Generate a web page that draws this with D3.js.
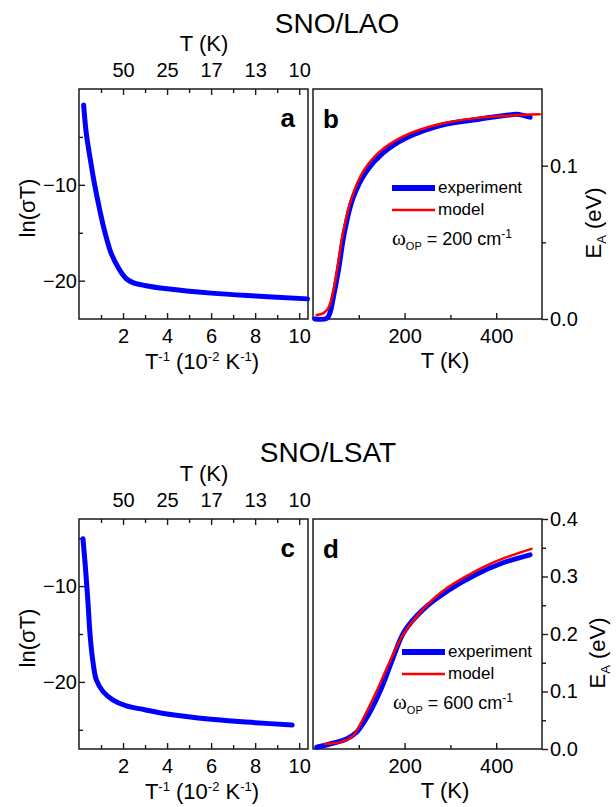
<!DOCTYPE html>
<html>
<head>
<meta charset="utf-8">
<script src="https://cdn.jsdelivr.net/npm/d3@7"></script>
<style>
  body { margin: 0; background: #fff; }
  svg { display: block; font-family: Arial, "Liberation Sans", sans-serif; }
  .axis path, .axis line { stroke: #1a1a1a; stroke-width: 1.4; }
  .axis text { font-size: 20px; fill: #000; font-family: Arial, "Liberation Sans", sans-serif; }
</style>
</head>
<body>
<script>
// ---- data ----
// panel a: SNO/LAO, ln(sigma T) vs 1/T (10^-2 K^-1)
var aInvT = [0.21, 0.33, 0.56, 0.71, 0.94, 1.16, 1.47, 1.85, 2.15, 2.45, 2.98, 4.0, 6.0, 8.0, 10.38];
var aLnSigT = [-1.67, -4.6, -8.0, -10.0, -12.6, -14.8, -17.2, -18.9, -19.8, -20.2, -20.5, -20.85, -21.3, -21.6, -21.9];

// panel c: SNO/LSAT
var cInvT = [0.18, 0.30, 0.41, 0.51, 0.64, 0.79, 1.09, 1.55, 2.15, 2.98, 4.0, 6.0, 8.0, 9.68];
var cLnSigT = [-5.06, -8.3, -11.8, -15.3, -18.0, -19.8, -21.0, -21.9, -22.5, -22.9, -23.35, -23.9, -24.25, -24.5];

// panel b: E_A (eV) vs T (K), SNO/LAO
var bExpT = [4, 30, 37, 44, 55, 69, 87, 116, 152, 203, 282, 355, 427, 445, 474];
var bExpE = [0.0, 0.0004, 0.004, 0.0135, 0.031, 0.057, 0.0787, 0.096, 0.108, 0.118, 0.1265, 0.130, 0.133, 0.1335, 0.1316];
var bModT = [8, 22, 33, 44, 55, 66, 84, 109, 145, 196, 268, 355, 427, 495];
var bModE = [0.0026, 0.0037, 0.007, 0.0178, 0.037, 0.057, 0.0787, 0.096, 0.109, 0.119, 0.1265, 0.131, 0.1326, 0.1335];

// panel d: E_A (eV) vs T (K), SNO/LSAT
var dExpT = [8, 37, 73, 95, 120, 149, 174, 199, 239, 297, 355, 412, 474];
var dExpE = [0.003, 0.0087, 0.0175, 0.029, 0.058, 0.105, 0.157, 0.204, 0.2416, 0.2765, 0.303, 0.323, 0.3377];
var dModT = [26, 66, 87, 109, 138, 167, 196, 232, 282, 340, 398, 477];
var dModE = [0.0087, 0.0133, 0.023, 0.052, 0.099, 0.151, 0.198, 0.236, 0.274, 0.303, 0.326, 0.348];

// ticks
var invTMajor = [2, 4, 6, 8, 10];
var invTMinor = [1, 3, 5, 7, 9];
var topTLabels = ["50", "25", "17", "13", "10"];
var tMajor = [200, 400];
var tMinor = [100, 300];

var blue = '#0000ff', red = '#ff0000';

var svg = d3.select('body').append('svg')
    .attr('width', 616)
    .attr('height', 807);

function zip(xs, ys) {
    return xs.map((x, i) => ({x: x, y: ys[i]}));
}

function frame(x, y) {
    svg.append('rect')
        .attr('x', x.range()[0]).attr('y', y.range()[1])
        .attr('width', x.range()[1] - x.range()[0])
        .attr('height', y.range()[0] - y.range()[1])
        .style('fill', 'none').style('stroke', '#1a1a1a').style('stroke-width', 1.5);
}

function drawCurve(x, y, pts, color, width) {
    var line = d3.line()
        .x((d) => x(d.x))
        .y((d) => y(d.y))
        .curve(d3.curveCatmullRom.alpha(0.5));
    svg.append('path')
        .datum(pts)
        .attr('d', line)
        .style('fill', 'none')
        .style('stroke', color)
        .style('stroke-width', width)
        .style('stroke-linecap', 'round')
        .style('stroke-linejoin', 'round');
}

function letter(txt, xp, yp, anchor) {
    svg.append('text').attr('x', xp).attr('y', yp)
        .attr('text-anchor', anchor)
        .style('font-size', '26px').style('font-weight', 'bold')
        .text(txt);
}

// left panels: Arrhenius plots
function drawArrhenius(top, yDomain, yMajor, yMinor, pts, name) {
    var x = d3.scaleLinear().domain([0, 10.4]).range([79, 308]);
    var y = d3.scaleLinear().domain(yDomain).range([top + 230, top]);

    svg.append('g').attr('class', 'axis')
        .attr('transform', 'translate(0,' + (top + 230) + ')')
        .call(d3.axisBottom(x).tickValues(invTMajor).tickSizeInner(-6).tickSizeOuter(0).tickPadding(10).tickFormat(d3.format('d')));
    svg.append('g').attr('class', 'axis')
        .attr('transform', 'translate(0,' + (top + 230) + ')')
        .call(d3.axisBottom(x).tickValues(invTMinor).tickSizeInner(-4).tickSizeOuter(0).tickFormat(''));

    svg.append('g').attr('class', 'axis')
        .attr('transform', 'translate(0,' + top + ')')
        .call(d3.axisTop(x).tickValues(invTMajor).tickSizeInner(-6).tickSizeOuter(0).tickPadding(12)
            .tickFormat((d, i) => topTLabels[i]));
    svg.append('g').attr('class', 'axis')
        .attr('transform', 'translate(0,' + top + ')')
        .call(d3.axisTop(x).tickValues(invTMinor).tickSizeInner(-4).tickSizeOuter(0).tickFormat(''));

    svg.append('g').attr('class', 'axis')
        .attr('transform', 'translate(79,0)')
        .call(d3.axisLeft(y).tickValues(yMajor).tickSizeInner(-6).tickSizeOuter(0).tickPadding(2).tickFormat(d3.format('d')));
    svg.append('g').attr('class', 'axis')
        .attr('transform', 'translate(79,0)')
        .call(d3.axisLeft(y).tickValues(yMinor).tickSizeInner(-4).tickSizeOuter(0).tickFormat(''));

    svg.selectAll('.axis path.domain').remove();
    frame(x, y);
    drawCurve(x, y, pts, blue, 5);
    letter(name, 295, top + 38, 'end');

    // axis titles
    svg.append('text').attr('x', 204).attr('y', top - 38)
        .attr('text-anchor', 'middle').style('font-size', '22px').text('T (K)');

    var xt = svg.append('text').attr('x', 202).attr('y', top + 280)
        .attr('text-anchor', 'middle').style('font-size', '22px');
    xt.append('tspan').text('T');
    xt.append('tspan').attr('dy', -8).style('font-size', '13px').text('-1');
    xt.append('tspan').attr('dy', 8).text(' (10');
    xt.append('tspan').attr('dy', -8).style('font-size', '13px').text('-2');
    xt.append('tspan').attr('dy', 8).text(' K');
    xt.append('tspan').attr('dy', -8).style('font-size', '13px').text('-1');
    xt.append('tspan').attr('dy', 8).text(')');

    svg.append('text')
        .attr('transform', 'translate(35,' + (top + 119) + ') rotate(-90)')
        .attr('text-anchor', 'middle').style('font-size', '22px').text('ln(σT)');
}

// right panels: activation energy
function drawEA(top, yMax, yMajor, yMinor, expPts, modPts, name, omega, labX, lg) {
    var x = d3.scaleLinear().domain([0, 500]).range([313, 542]);
    var y = d3.scaleLinear().domain([0, yMax]).range([top + 230, top]);

    svg.append('g').attr('class', 'axis')
        .attr('transform', 'translate(0,' + (top + 230) + ')')
        .call(d3.axisBottom(x).tickValues(tMajor).tickSizeInner(-6).tickSizeOuter(0).tickPadding(10).tickFormat(d3.format('d')));
    svg.append('g').attr('class', 'axis')
        .attr('transform', 'translate(0,' + (top + 230) + ')')
        .call(d3.axisBottom(x).tickValues(tMinor).tickSizeInner(-4).tickSizeOuter(0).tickFormat(''));

    svg.append('g').attr('class', 'axis')
        .attr('transform', 'translate(542,0)')
        .call(d3.axisRight(y).tickValues(yMajor).tickSizeInner(6).tickSizeOuter(0).tickPadding(2).tickFormat(d3.format('.1f')));
    svg.append('g').attr('class', 'axis')
        .attr('transform', 'translate(542,0)')
        .call(d3.axisRight(y).tickValues(yMinor).tickSizeInner(4).tickSizeOuter(0).tickFormat(''));

    svg.selectAll('.axis path.domain').remove();
    frame(x, y);
    drawCurve(x, y, expPts, blue, 5);
    drawCurve(x, y, modPts, red, 2.5);
    letter(name, 323, top + 39, 'start');

    svg.append('text').attr('x', 445).attr('y', top + 279)
        .attr('text-anchor', 'middle').style('font-size', '22px').text('T (K)');

    var yt = svg.append('text')
        .attr('transform', 'translate(' + labX + ',' + (top + 134) + ') rotate(-90)')
        .attr('text-anchor', 'middle').style('font-size', '22px');
    yt.append('tspan').text('E');
    yt.append('tspan').attr('dy', 5).style('font-size', '13px').text('A');
    yt.append('tspan').attr('dy', -5).text(' (eV)');

    // legend
    var lx = lg.x;
    svg.append('line').attr('x1', lx).attr('x2', lx + 43)
        .attr('y1', lg.y).attr('y2', lg.y)
        .style('stroke', blue).style('stroke-width', 6);
    svg.append('text').attr('x', lx + 46).attr('y', lg.y + 5)
        .style('font-size', '17px').text('experiment');
    svg.append('line').attr('x1', lx).attr('x2', lx + 43)
        .attr('y1', lg.y + 22).attr('y2', lg.y + 22)
        .style('stroke', red).style('stroke-width', 2.5);
    svg.append('text').attr('x', lx + 46).attr('y', lg.y + 27)
        .style('font-size', '17px').text('model');

    var om = svg.append('text').attr('x', lg.wx).attr('y', lg.y + 57)
        .style('font-size', '18px');
    om.append('tspan').style('font-family', '"Liberation Serif", "Times New Roman", serif')
        .style('font-size', '21px').text('ω');
    om.append('tspan').attr('dy', 5).style('font-size', '11px').text('OP');
    om.append('tspan').attr('dy', -5).text(' = ' + omega + ' cm');
    om.append('tspan').attr('dy', -7).style('font-size', '12px').text('-1');
}

// titles
svg.append('text').attr('x', 337).attr('y', 33)
    .attr('text-anchor', 'middle').style('font-size', '28px').text('SNO/LAO');
svg.append('text').attr('x', 328).attr('y', 462)
    .attr('text-anchor', 'middle').style('font-size', '28px').text('SNO/LSAT');

drawArrhenius(89, [-24, 0], [-10, -20], [-5, -15], zip(aInvT, aLnSigT), 'a');
drawArrhenius(519, [-27, -3], [-10, -20], [-5, -15, -25], zip(cInvT, cLnSigT), 'c');

drawEA(89, 0.15, [0, 0.1], [0.05], zip(bExpT, bExpE), zip(bModT, bModE), 'b', 200, 601,
    {x: 392, y: 188, wx: 392});
drawEA(519, 0.4, [0, 0.1, 0.2, 0.3, 0.4], [0.05, 0.15, 0.25, 0.35], zip(dExpT, dExpE), zip(dModT, dModE), 'd', 600, 605,
    {x: 402, y: 652, wx: 393});
</script>
</body>
</html>
